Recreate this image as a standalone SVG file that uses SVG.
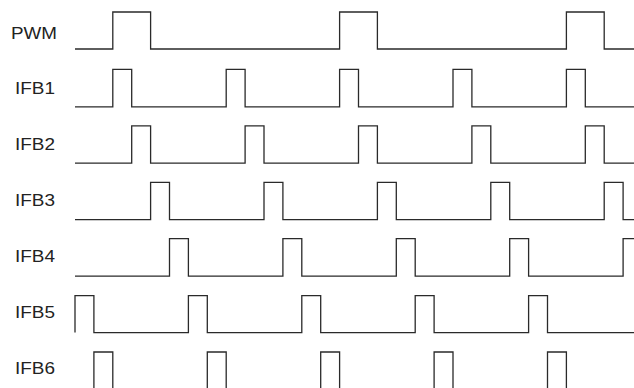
<svg xmlns="http://www.w3.org/2000/svg" width="634" height="388" viewBox="0 0 634 388">
<style>
.w{fill:none;stroke:#2a2a2a;stroke-width:1.3;stroke-linejoin:miter;stroke-linecap:butt}
.l{font-family:"Liberation Sans",Arial,sans-serif;font-size:16.5px;fill:#222}
</style>
<rect width="634" height="388" fill="#fff"/>
<g id="PWM">
<text class="l" x="11" y="39" textLength="46" lengthAdjust="spacingAndGlyphs">PWM</text>
<path class="w" d="M75,49 H112.8 V12 H150.6 V49 H339.6 V12 H377.4 V49 H566.4 V12 H604.2 V49 H634"/>
</g>
<g id="IFB1">
<text class="l" x="15" y="94.3" textLength="40" lengthAdjust="spacingAndGlyphs">IFB1</text>
<path class="w" d="M75,106.8 H112.8 V69.4 H131.7 V106.8 H226.2 V69.4 H245.1 V106.8 H339.6 V69.4 H358.5 V106.8 H453 V69.4 H471.9 V106.8 H566.4 V69.4 H585.3 V106.8 H634"/>
</g>
<g id="IFB2">
<text class="l" x="15" y="150.3" textLength="40" lengthAdjust="spacingAndGlyphs">IFB2</text>
<path class="w" d="M75,163.2 H131.7 V125.8 H150.6 V163.2 H245.1 V125.8 H264 V163.2 H358.5 V125.8 H377.4 V163.2 H471.9 V125.8 H490.8 V163.2 H585.3 V125.8 H604.2 V163.2 H634"/>
</g>
<g id="IFB3">
<text class="l" x="15" y="206.3" textLength="40" lengthAdjust="spacingAndGlyphs">IFB3</text>
<path class="w" d="M75,219.7 H150.6 V182.3 H169.5 V219.7 H264 V182.3 H282.9 V219.7 H377.4 V182.3 H396.3 V219.7 H490.8 V182.3 H509.7 V219.7 H604.2 V182.3 H623.1 V219.7 H634"/>
</g>
<g id="IFB4">
<text class="l" x="15" y="262.3" textLength="40" lengthAdjust="spacingAndGlyphs">IFB4</text>
<path class="w" d="M75,276.1 H169.5 V238.7 H188.4 V276.1 H282.9 V238.7 H301.8 V276.1 H396.3 V238.7 H415.2 V276.1 H509.7 V238.7 H528.6 V276.1 H623.1 V238.7 H634"/>
</g>
<g id="IFB5">
<text class="l" x="15" y="318.3" textLength="40" lengthAdjust="spacingAndGlyphs">IFB5</text>
<path class="w" d="M75,332.6 V295.6 H93.9 V332.6 H188.4 V295.6 H207.3 V332.6 H301.8 V295.6 H320.7 V332.6 H415.2 V295.6 H434.1 V332.6 H528.6 V295.6 H547.5 V332.6 H634"/>
</g>
<g id="IFB6">
<text class="l" x="15" y="374.3" textLength="40" lengthAdjust="spacingAndGlyphs">IFB6</text>
<path class="w" d="M75,391 H93.9 V352 H112.8 V391 H207.3 V352 H226.2 V391 H320.7 V352 H339.6 V391 H434.1 V352 H453 V391 H547.5 V352 H566.4 V391 H634"/>
</g>
</svg>
